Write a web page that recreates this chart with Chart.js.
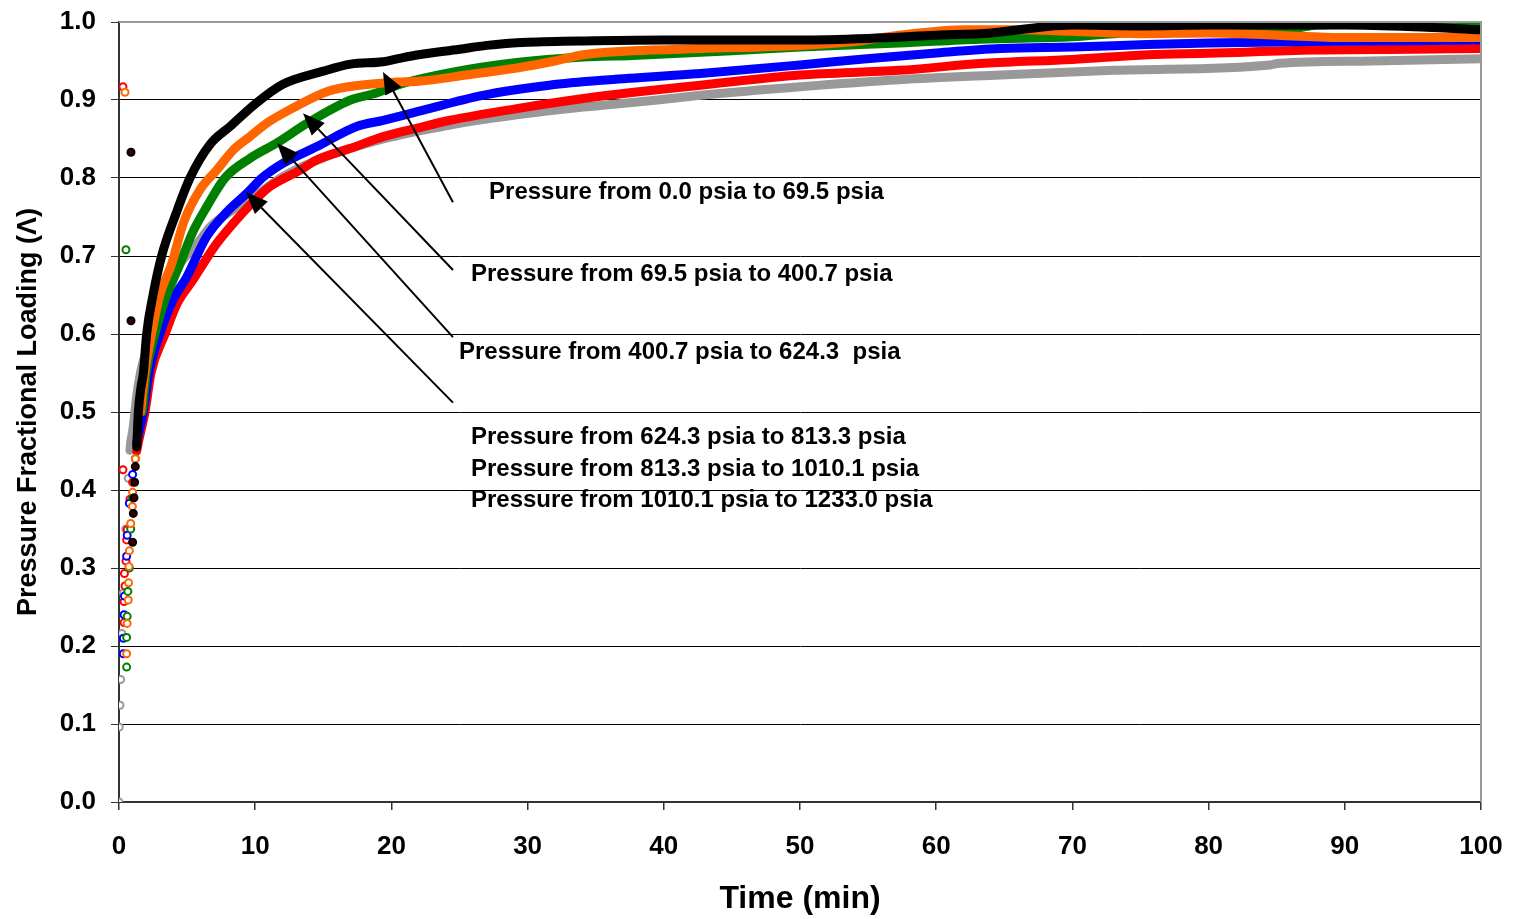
<!DOCTYPE html>
<html>
<head>
<meta charset="utf-8">
<script src="https://cdn.jsdelivr.net/npm/chart.js@4/dist/chart.umd.min.js"></script>
<style>
  html, body { margin: 0; padding: 0; background: #fff; }
  canvas { display: block; }
</style>
</head>
<body>
<canvas id="chart" width="1514" height="919"></canvas>
<script>
// time (min) vs pressure fractional loading
const black = [[1.0,0.333],[1.05,0.37],[1.1,0.39],[1.15,0.41],[1.2,0.43],[1.3,0.455],[1.42,0.5],[1.6,0.53],[1.79,0.55],[2.03,0.6],[2.5,0.65],[3.13,0.7],[4.2,0.755],[5.21,0.8],[6.68,0.843],[8.15,0.866],[10,0.895],[12,0.92],[15,0.937],[17,0.946],[19.4,0.949],[20.5,0.953],[22,0.958],[25,0.965],[27,0.97],[30,0.974],[35,0.976],[40,0.977],[45,0.977],[50,0.977],[55,0.979],[60,0.983],[64,0.986],[68,0.994],[70,0.996],[75,0.995],[80,0.996],[85,0.996],[90,0.996],[95,0.994],[100,0.99]];
const orange = [[0.56,0.19],[0.6,0.229],[0.68,0.259],[0.7,0.281],[0.73,0.302],[0.76,0.322],[0.86,0.357],[0.98,0.379],[1.0,0.397],[1.2,0.44],[1.59,0.5],[1.9,0.55],[2.39,0.6],[3.0,0.65],[3.87,0.69],[4.72,0.742],[5.95,0.785],[7.17,0.81],[8.4,0.836],[9.6,0.853],[11,0.872],[12.8,0.89],[15.3,0.911],[17.7,0.919],[20.4,0.923],[22,0.924],[25.5,0.932],[29.2,0.941],[32,0.95],[34.1,0.958],[37.7,0.963],[42.7,0.966],[50,0.97],[54,0.975],[57.3,0.983],[62.2,0.99],[66,0.99],[70,0.988],[75,0.985],[80,0.986],[85,0.983],[90,0.98],[95,0.98],[100,0.98]];
const green = [[0.56,0.173],[0.56,0.211],[0.6,0.238],[0.65,0.27],[0.76,0.3],[0.86,0.35],[1.0,0.39],[1.2,0.44],[1.71,0.5],[2.0,0.55],[2.64,0.6],[3.5,0.65],[4.48,0.69],[5.4,0.73],[6.44,0.763],[7.78,0.8],[9.6,0.825],[11.6,0.845],[13.8,0.87],[17,0.9],[18.9,0.909],[20.6,0.92],[24.3,0.935],[29.2,0.948],[34.1,0.955],[37.7,0.957],[45,0.963],[50,0.968],[57.3,0.973],[63.2,0.978],[70,0.981],[75,0.987],[85,0.988],[88,0.996],[95,0.998],[100,0.998]];
const blue = [[0.32,0.19],[0.32,0.21],[0.37,0.24],[0.4,0.264],[0.56,0.315],[0.6,0.342],[0.76,0.383],[1.0,0.42],[1.3,0.46],[1.79,0.5],[2.2,0.55],[3.0,0.6],[4.0,0.645],[4.97,0.673],[6.44,0.725],[8.0,0.758],[9.37,0.78],[10.5,0.8],[12.06,0.819],[14.5,0.84],[17.45,0.866],[19.4,0.874],[21.9,0.885],[26.7,0.906],[31.6,0.919],[36,0.926],[42.7,0.934],[50,0.945],[54.9,0.953],[59.8,0.96],[64.7,0.966],[70,0.968],[75.5,0.971],[80,0.973],[87.7,0.975],[95,0.976],[100,0.977]];
const red = [[0.37,0.23],[0.37,0.257],[0.44,0.277],[0.4,0.293],[0.51,0.309],[0.56,0.336],[0.6,0.349],[0.8,0.388],[1.0,0.41],[1.3,0.45],[1.91,0.5],[2.35,0.55],[3.38,0.6],[4.3,0.64],[5.46,0.67],[6.0,0.685],[7.17,0.716],[8.4,0.742],[9.6,0.765],[11,0.788],[13.3,0.81],[14.5,0.823],[17,0.838],[19.4,0.853],[21.9,0.864],[24.3,0.874],[29.2,0.889],[34.1,0.902],[37.8,0.91],[42.7,0.919],[50,0.932],[57.3,0.938],[63.5,0.947],[70,0.952],[75.5,0.958],[80,0.96],[87.7,0.964],[95,0.965],[100,0.966]];
const gray = [[0,0],[0.02,0.096],[0.07,0.124],[0.12,0.157],[0.2,0.216],[0.32,0.268],[0.5,0.35],[0.68,0.415],[0.8,0.451],[1.05,0.481],[1.3,0.52],[1.67,0.558],[2.5,0.6],[3.5,0.645],[4.48,0.69],[5.5,0.71],[6.68,0.737],[8,0.755],[9.6,0.772],[12.06,0.802],[15,0.826],[19.4,0.85],[24.3,0.868],[29.2,0.881],[34.1,0.891],[39,0.899],[42.7,0.906],[50,0.917],[57.3,0.926],[64.7,0.932],[73,0.938],[84.5,0.945],[85.2,0.947],[92,0.95],[100,0.953]];

// lone points away from the curves
const blackStray = [[0.88,0.833],[0.88,0.617]];
const orangeStray = [[0.44,0.91]];
const greenStray = [[0.51,0.708]];
const redStray = [[0.29,0.917],[0.29,0.426]];

const labelTexts = [
  'Pressure from 0.0 psia to 69.5 psia',
  'Pressure from 69.5 psia to 400.7 psia',
  'Pressure from 400.7 psia to 624.3  psia',
  'Pressure from 624.3 psia to 813.3 psia',
  'Pressure from 813.3 psia to 1010.1 psia',
  'Pressure from 1010.1 psia to 1233.0 psia'
];
const labelX = [27.17, 25.84, 24.96, 25.84, 25.84, 25.84];
const labelY = [0.782, 0.676, 0.576, 0.468, 0.427, 0.387];
const arrowFrom = [[24.52,0.769],[24.52,0.682],[24.52,0.596],[24.52,0.512]];
const arrowTo = [[19.38,0.936],[13.51,0.883],[11.6,0.845],[9.32,0.782]];

const FONT = "'Liberation Sans', Arial, sans-serif";
const SPARSE = 0.445;

function pts(arr) {
  return arr.map(p => ({ x: p[0], y: p[1] }));
}

function curve(arr, color, fill) {
  return {
    data: pts(arr),
    showLine: true,
    borderColor: color,
    borderWidth: 9,
    borderCapStyle: 'round',
    borderJoinStyle: 'round',
    cubicInterpolationMode: 'monotone',
    pointRadius: ctx => (ctx.raw && ctx.raw.y < SPARSE ? 3.5 : 0),
    pointBorderWidth: 2,
    pointBorderColor: color,
    pointBackgroundColor: fill,
    segment: {
      borderColor: ctx => (ctx.p0.parsed.y < SPARSE ? 'transparent' : color)
    }
  };
}

function stray(arr, color, fill) {
  return {
    data: pts(arr),
    showLine: false,
    pointRadius: 3.5,
    pointBorderWidth: 2,
    pointBorderColor: color,
    pointBackgroundColor: fill
  };
}

const annotations = {
  id: 'annotations',
  afterDatasetsDraw(chart) {
    const { ctx, scales: { x, y }, chartArea } = chart;
    ctx.save();
    // gray plot border on top and right
    ctx.strokeStyle = '#999';
    ctx.lineWidth = 2;
    ctx.beginPath();
    ctx.moveTo(chartArea.left, chartArea.top);
    ctx.lineTo(chartArea.right, chartArea.top);
    ctx.lineTo(chartArea.right, chartArea.bottom);
    ctx.stroke();

    ctx.fillStyle = '#000';
    ctx.font = 'bold 24px ' + FONT;
    ctx.textBaseline = 'middle';
    ctx.textAlign = 'left';
    labelTexts.forEach((t, i) => {
      ctx.fillText(t, x.getPixelForValue(labelX[i]), y.getPixelForValue(labelY[i]));
    });

    ctx.strokeStyle = '#000';
    ctx.lineWidth = 2;
    arrowFrom.forEach((f, i) => {
      const x0 = x.getPixelForValue(f[0]), y0 = y.getPixelForValue(f[1]);
      const x1 = x.getPixelForValue(arrowTo[i][0]), y1 = y.getPixelForValue(arrowTo[i][1]);
      const a = Math.atan2(y1 - y0, x1 - x0);
      const len = 22, half = 9;
      const bx = x1 - len * Math.cos(a), by = y1 - len * Math.sin(a);
      ctx.beginPath();
      ctx.moveTo(x0, y0);
      ctx.lineTo(bx, by);
      ctx.stroke();
      ctx.beginPath();
      ctx.moveTo(x1, y1);
      ctx.lineTo(bx + half * Math.sin(a), by - half * Math.cos(a));
      ctx.lineTo(bx - half * Math.sin(a), by + half * Math.cos(a));
      ctx.closePath();
      ctx.fill();
    });
    ctx.restore();
  }
};

new Chart(document.getElementById('chart'), {
  type: 'scatter',
  data: {
    datasets: [
      curve(black, '#000000', '#3a0000'),
      curve(orange, '#ff6600', '#ffffff'),
      curve(green, '#008000', '#ffffff'),
      curve(blue, '#0000ff', '#ffffff'),
      curve(red, '#ff0000', '#ffffff'),
      curve(gray, '#999999', '#ffffff'),
      stray(blackStray, '#000000', '#3a0000'),
      stray(orangeStray, '#ff6600', '#ffffff'),
      stray(greenStray, '#008000', '#ffffff'),
      stray(redStray, '#ff0000', '#ffffff')
    ]
  },
  options: {
    responsive: false,
    animation: false,
    layout: { padding: { top: 22, right: 33, left: 0, bottom: 0 } },
    plugins: { legend: { display: false }, tooltip: { enabled: false } },
    scales: {
      x: {
        type: 'linear',
        min: 0,
        max: 100,
        afterFit: s => { s.height = 117; s.paddingLeft = 0; s.paddingRight = 0; },
        ticks: { stepSize: 10, color: '#000', padding: 21, font: { family: FONT, size: 26, weight: 'bold' } },
        grid: { drawOnChartArea: false, drawTicks: true, tickLength: 8, color: '#333', lineWidth: 1.5 },
        border: { color: '#333', width: 2 },
        title: { display: true, text: 'Time (min)', color: '#000', padding: { top: 0, bottom: 1 }, font: { family: FONT, size: 32, weight: 'bold' } }
      },
      y: {
        min: 0,
        max: 1,
        afterFit: s => { s.width = 119; s.paddingTop = 0; s.paddingBottom = 0; },
        ticks: { stepSize: 0.1, color: '#000', padding: 15, callback: v => v.toFixed(1), font: { family: FONT, size: 26, weight: 'bold' } },
        grid: {
          color: ctx => (ctx.tick && ctx.tick.value >= 1 ? '#999' : '#000'),
          lineWidth: 1,
          tickLength: 8,
          tickColor: '#333'
        },
        border: { color: '#333', width: 2 },
        title: { display: true, text: 'Pressure Fractional Loading (\u039B)', color: '#000', padding: { top: 12, bottom: 0 }, font: { family: FONT, size: 27, weight: 'bold' } }
      }
    }
  },
  plugins: [annotations]
});
</script>
</body>
</html>
